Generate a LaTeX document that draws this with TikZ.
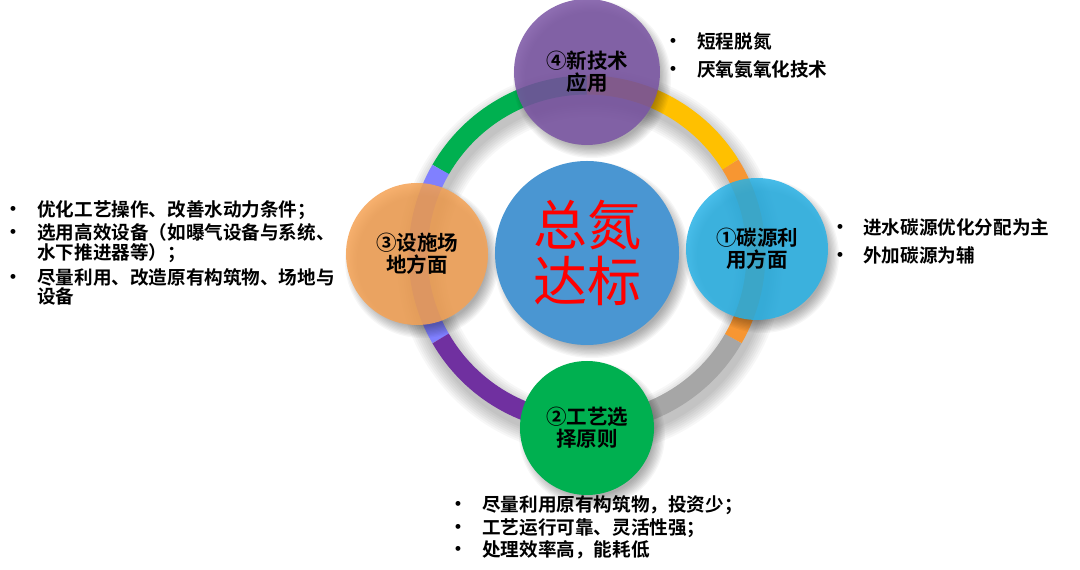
\documentclass[tikz,border=0pt]{standalone}
\usepackage{fontspec}
\setmainfont{Noto Sans CJK SC}[BoldFont={Noto Sans CJK SC Bold}]
\newfontfamily\bulletfont{Liberation Sans}
\usetikzlibrary{calc}
\definecolor{cpurple}{RGB}{122,84,164}
\definecolor{csky}{RGB}{40,178,230}
\definecolor{ccenter}{RGB}{74,150,210}
\definecolor{corange}{RGB}{245,162,84}
\definecolor{cgreen}{RGB}{0,176,80}
\definecolor{rgreen}{RGB}{0,176,80}
\definecolor{rlav}{RGB}{128,128,255}
\definecolor{rpurple}{RGB}{112,48,160}
\definecolor{rgray}{RGB}{166,166,166}
\definecolor{rorange}{RGB}{247,150,50}
\definecolor{ryellow}{RGB}{255,192,0}
\newcommand\bubshadow[2]{%
  \foreach \d in {0,...,9}
    \fill[black,opacity=0.035] ($(#1)+(5,-7)$) circle[radius={#2+6-1.3*\d}];}
\newcommand\ringarc[3]{%
  \draw[ringline,#1] ($(ring)+(#2:169)$) arc[start angle=#2,end angle=#3,radius=169];}
\begin{document}
\begin{tikzpicture}[x=1pt,y=1pt,
  bubble/.style={circle,inner sep=0pt,minimum size=#1,align=center,text opacity=1},
  blabel/.style={font=\fontsize{20.5}{22}\selectfont\bfseries,text=black},
  ringline/.style={line width=19pt,line cap=butt},
  bul/.style={inner sep=0pt,anchor=center,font=\bulletfont\bfseries\fontsize{17}{17}\selectfont},
  btext/.style={inner sep=0pt,anchor=base west,font=\fontsize{18.6}{20}\selectfont\bfseries}]
\useasboundingbox (0,0) rectangle (1080,570);
\fill[white] (0,0) rectangle (1080,570);
\coordinate (ring) at (587,316);
% ring shadow
\foreach \w in {48,44,...,18}
  \draw[black,opacity=0.03,line width=\w pt] ($(ring)+(3,-8)$) circle[radius=169];
% ring
\ringarc{rgreen}{90}{150}
\ringarc{rlav}{150}{210}
\ringarc{rpurple}{210}{270}
\ringarc{rgray}{270}{330}
\ringarc{rorange}{330}{392}
\ringarc{ryellow}{32}{90}
% circle centres
\coordinate (pA) at (587,498);
\coordinate (pB) at (757,321);
\coordinate (pC) at (587,142);
\coordinate (pD) at (417,316);
\coordinate (pO) at (587,317);
% shadows
\bubshadow{pA}{73}
\bubshadow{pB}{71}
\bubshadow{pC}{67}
\bubshadow{pD}{71}
\bubshadow{pO}{92}
% circles
\node[bubble=146pt,fill=cpurple,fill opacity=0.85,blabel] (tech) at (pA) {④新技术\\应用};
\node[bubble=142pt,fill=csky,fill opacity=0.85,blabel] (carbon) at (pB) {①碳源利\\用方面};
\node[bubble=134pt,fill=cgreen,blabel] (proc) at (pC) {②工艺选\\择原则};
\node[bubble=142pt,fill=corange,fill opacity=0.85,blabel] (site) at (pD) {③设施场\\地方面};
\node[bubble=184pt,fill=ccenter,text=red,font=\fontsize{54}{56}\selectfont] (tn) at (pO) {总氮\\达标};
% top right list
\node[bul] (b41) at (673,528) {•};
\node[btext] (t41) at (697,521) {短程脱氮};
\node[bul] (b42) at (673,500) {•};
\node[btext] (t42) at (697,493) {厌氧氨氧化技术};
% right list
\node[bul] (b11) at (840,342) {•};
\node[btext] (t11) at (863,335) {进水碳源优化分配为主};
\node[bul] (b12) at (840,314) {•};
\node[btext] (t12) at (863,307) {外加碳源为辅};
% left list
\node[bul] (b31) at (13,360) {•};
\node[btext] (t31) at (37,353) {优化工艺操作、改善水动力条件；};
\node[bul] (b32) at (13,337) {•};
\node[btext] (t32) at (37,330) {选用高效设备（如曝气设备与系统、};
\node[btext] (t33) at (37,310) {水下推进器等）；};
\node[bul] (b34) at (13,292) {•};
\node[btext] (t34) at (37,285) {尽量利用、改造原有构筑物、场地与};
\node[btext] (t35) at (37,266) {设备};
% bottom list
\node[bul] (b21) at (458,65) {•};
\node[btext] (t21) at (482,58) {尽量利用原有构筑物，投资少；};
\node[bul] (b22) at (458,42) {•};
\node[btext] (t22) at (482,35) {工艺运行可靠、灵活性强；};
\node[bul] (b23) at (458,20) {•};
\node[btext] (t23) at (482,13) {处理效率高，能耗低};
\end{tikzpicture}
\end{document}
